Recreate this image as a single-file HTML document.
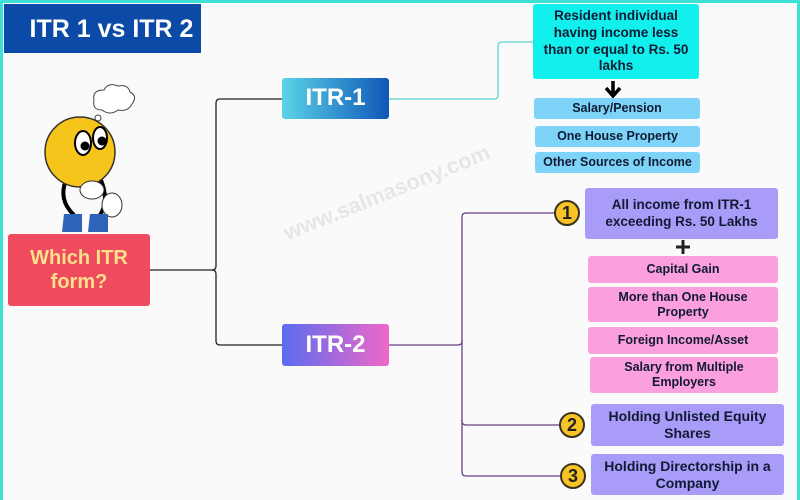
<!DOCTYPE html>
<html><head><meta charset="utf-8"><style>
*{margin:0;padding:0;box-sizing:border-box}
body{width:800px;height:500px;overflow:hidden;background:#fafafb;font-family:"Liberation Sans",sans-serif;position:relative}
.frame{position:absolute;left:0;top:0;width:800px;height:500px;border:3px solid #3de0d6;border-bottom:none}
.b{position:absolute;display:flex;align-items:center;justify-content:center;text-align:center;font-weight:bold;border-radius:3px;color:#111a33;line-height:1.2}
.c{position:absolute;width:26px;height:26px;border-radius:50%;background:#f7c325;border:2px solid #3a3220;font-weight:bold;font-size:18px;display:flex;align-items:center;justify-content:center;color:#222}
</style></head><body>
<div class="frame"></div>
<svg width="800" height="500" style="position:absolute;left:0;top:0">
<g fill="none" stroke-width="1.3">
<path d="M150 270 H212 Q216 270 216 266 V103 Q216 99 220 99 H282" stroke="#222"/>
<path d="M212 270 Q216 270 216 274 V341 Q216 345 220 345 H282" stroke="#222"/>
<path d="M389 99 H494 Q498 99 498 95 V46 Q498 42 502 42 H534" stroke="#5ed3d3"/>
<path d="M389 345 H458 Q462 345 462 341 V217 Q462 213 466 213 H556" stroke="#6a3f86"/>
<path d="M462 340 V421 Q462 425 466 425 H560" stroke="#6a3f86"/>
<path d="M462 420 V472 Q462 476 466 476 H560" stroke="#6a3f86"/>
</g>
<path d="M613 81 V95 M606 88 L613 96 L620 88" stroke="#000" stroke-width="3.5" fill="none"/>
<path d="M683 240 V254 M676 247 H690" stroke="#222" stroke-width="3"/>
<g>
<path d="M94 100 q-2 -10 10 -10 q4 -8 14 -4 q10 -2 12 6 q8 4 2 12 q-4 8 -14 6 q-8 6 -16 0 q-10 0 -8 -10z" fill="#fff" stroke="#444"/>
<circle cx="98" cy="118" r="3" fill="#fff" stroke="#444"/>
<path d="M66 180 Q58 200 74 215 M100 178 Q110 200 100 215" stroke="#000" stroke-width="4" fill="none"/>
<circle cx="80" cy="152" r="35" fill="#f6c51c" stroke="#333" stroke-width="1.5"/>
<ellipse cx="83" cy="143" rx="8" ry="12" fill="#fff" stroke="#000" stroke-width="2"/>
<ellipse cx="100" cy="138" rx="7" ry="11" fill="#fff" stroke="#000" stroke-width="2"/>
<circle cx="85" cy="146" r="4.5" fill="#000"/><circle cx="102" cy="141" r="4.5" fill="#000"/>
<ellipse cx="92" cy="190" rx="12" ry="9" fill="#fff" stroke="#333"/>
<ellipse cx="112" cy="205" rx="10" ry="12" fill="#fff" stroke="#333"/>
<path d="M64 214 h18 v18 h-20 z M90 214 h18 v18 h-20 z" fill="#2d63b8"/>
</g>
</svg>
<div class="b" style="left:4px;top:4px;width:197px;height:49px;background:#0b4aa6;color:#fff;font-size:25px;border-radius:0;padding-left:18px">ITR 1 vs ITR 2</div>
<div class="b" style="left:8px;top:234px;width:142px;height:72px;background:#f04a5e;color:#fde08a;font-size:20px">Which ITR<br>form?</div>
<div class="b" style="left:282px;top:78px;width:107px;height:41px;background:linear-gradient(90deg,#5ad4e8,#1056b8);color:#fff;font-size:24px">ITR-1</div>
<div class="b" style="left:282px;top:324px;width:107px;height:42px;background:linear-gradient(90deg,#5a6cf0,#f068c8);color:#fff;font-size:24px">ITR-2</div>
<div class="b" style="left:533px;top:4px;width:166px;height:75px;background:#12f0ee;font-size:13.5px;line-height:1.25">Resident individual<br>having income less<br>than or equal to Rs. 50<br>lakhs</div>
<div class="b" style="left:534px;top:98px;width:166px;height:21px;background:#7dd4f8;font-size:12.5px">Salary/Pension</div>
<div class="b" style="left:535px;top:126px;width:165px;height:21px;background:#7dd4f8;font-size:12.5px">One House Property</div>
<div class="b" style="left:535px;top:152px;width:165px;height:21px;background:#7dd4f8;font-size:12.5px">Other Sources of Income</div>
<div class="b" style="left:585px;top:188px;width:193px;height:51px;background:#a89cf8;font-size:13.5px">All income from ITR-1<br>exceeding Rs. 50 Lakhs</div>
<div class="b" style="left:588px;top:256px;width:190px;height:27px;background:#fba0dc;font-size:12.5px">Capital Gain</div>
<div class="b" style="left:588px;top:287px;width:190px;height:35px;background:#fba0dc;font-size:12.5px">More than One House<br>Property</div>
<div class="b" style="left:588px;top:327px;width:190px;height:27px;background:#fba0dc;font-size:12.5px">Foreign Income/Asset</div>
<div class="b" style="left:590px;top:357px;width:188px;height:36px;background:#fba0dc;font-size:12.5px">Salary from Multiple<br>Employers</div>
<div class="b" style="left:591px;top:404px;width:193px;height:42px;background:#a89cf8;font-size:14px">Holding Unlisted Equity<br>Shares</div>
<div class="b" style="left:591px;top:454px;width:193px;height:41px;background:#a89cf8;font-size:14px">Holding Directorship in a<br>Company</div>
<div class="c" style="left:554px;top:200px">1</div>
<div class="c" style="left:559px;top:412px">2</div>
<div class="c" style="left:560px;top:463px">3</div>
<div style="position:absolute;left:280px;top:222px;font-size:22px;font-weight:bold;color:rgba(0,0,0,0.08);transform:rotate(-22deg);transform-origin:left top">www.salmasony.com</div>
</body></html>
